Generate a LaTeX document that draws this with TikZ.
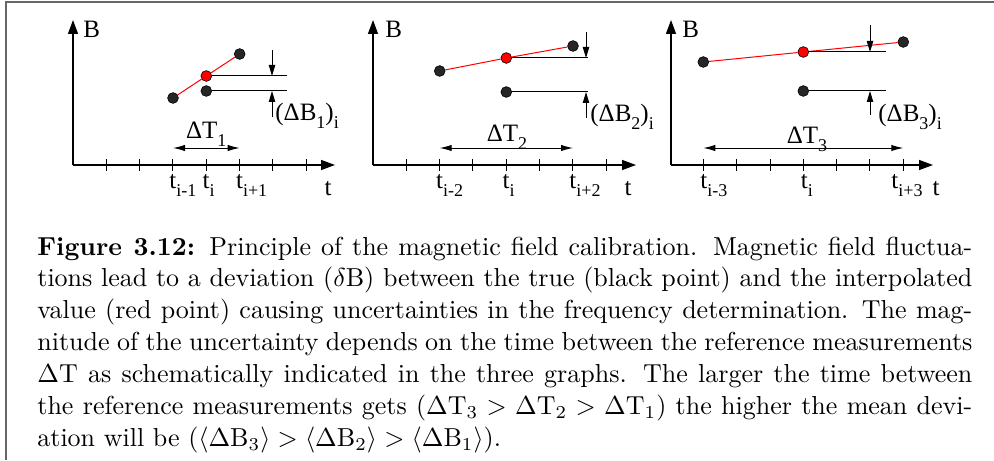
\documentclass[tikz,border=0pt]{standalone}
\usepackage{fontspec}
\newfontfamily\figfont{Liberation Serif}
\usetikzlibrary{arrows.meta}
\newcommand\lsub[1]{\raisebox{-0.32em}{\fontsize{9}{9}\selectfont#1}}

\begin{document}
\begin{tikzpicture}[x=0.5pt,y=-0.5pt,
  frame/.style={draw=black!60,line width=1pt},
  axis/.style={line width=0.7pt,-{Triangle[length=7pt,width=5pt]}},
  level/.style={line width=0.5pt},
  interp/.style={red,line width=0.5pt},
  dbarrow/.style={line width=0.5pt,-{Triangle[length=5.5pt,width=3.2pt]}},
  span/.style={line width=0.5pt,{Latex[length=6pt,width=3.2pt]}-{Latex[length=6pt,width=3.2pt]}},
  dot/.style={circle,fill=black!85,draw=black,line width=0.3pt,inner sep=0pt,minimum size=5.4pt},
  reddot/.style={dot,fill=red},
  lbl/.style={font=\figfont\fontsize{12.5}{14}\selectfont,inner sep=0pt},
  tlbl/.style={lbl,anchor=base west}]
\useasboundingbox (0,0) rectangle (994,460);
\coordinate (tl) at (6,2);
\coordinate (tr) at (994,2);
\coordinate (bl) at (6,460);
\draw[frame] (tr) -- (tl) -- (bl);

% first graph, Delta T_1
\begin{scope}[shift={(73,165)}]
\coordinate (o1) at (0,0);
\coordinate (yt1) at (0,-145);
\coordinate (xt1) at (262,0);
\draw[axis] (o1) -- (yt1);
\draw[axis] (o1) -- (xt1);
\foreach \k in {1,...,7} \draw[level] (\k*33.33,-6) -- (\k*33.33,6);
\node[lbl,anchor=base west] (B1) at (10,-127) {B};
\node[lbl,anchor=base] (t1) at (255,30) {t};
\node[tlbl] (ta1) at (96,23) {t\lsub{i-1}};
\node[tlbl] (tb1) at (129.3,23) {t\lsub{i}};
\node[tlbl] (tc1) at (162.7,23) {t\lsub{i+1}};
\node[dot] (p1) at (100,-67) {};
\node[reddot] (r1) at (133.3,-89) {};
\node[dot] (q1) at (166.7,-111) {};
\node[dot] (s1) at (133.3,-74) {};
\draw[interp] (p1) -- (r1) -- (q1);
\coordinate (re1) at (214,-89);
\coordinate (se1) at (214,-74);
\draw[level] (r1) -- (re1);
\draw[level] (s1) -- (se1);
\coordinate (da1) at (199,-115);
\coordinate (dh1) at (199,-89);
\coordinate (ua1) at (199,-48);
\coordinate (uh1) at (199,-74);
\draw[dbarrow] (da1) -- (dh1);
\draw[dbarrow] (ua1) -- (uh1);
\node[lbl,anchor=base west] (dB1) at (202,-45) {(ΔB\lsub{1})\lsub{i}};
\node[lbl,anchor=base] (dT1) at (133.3,-27) {ΔT\lsub{1}};
\coordinate (sl1) at (100,-17);
\coordinate (sr1) at (166.7,-17);
\draw[span] (sl1) -- (sr1);
\end{scope}

% second graph, Delta T_2
\begin{scope}[shift={(373,165)}]
\coordinate (o2) at (0,0);
\coordinate (yt2) at (0,-145);
\coordinate (xt2) at (263,0);
\draw[axis] (o2) -- (yt2);
\draw[axis] (o2) -- (xt2);
\foreach \k in {1,...,7} \draw[level] (\k*33.33,-6) -- (\k*33.33,6);
\node[lbl,anchor=base west] (B2) at (12,-127) {B};
\node[lbl,anchor=base] (t2) at (255,30) {t};
\node[tlbl] (ta2) at (62.7,23) {t\lsub{i-2}};
\node[tlbl] (tb2) at (129.3,23) {t\lsub{i}};
\node[tlbl] (tc2) at (196,23) {t\lsub{i+2}};
\node[dot] (p2) at (66.7,-94) {};
\node[reddot] (r2) at (133.3,-107) {};
\node[dot] (q2) at (200,-119) {};
\node[dot] (s2) at (133.3,-73) {};
\draw[interp] (p2) -- (r2) -- (q2);
\coordinate (re2) at (215,-107);
\coordinate (se2) at (215,-73);
\draw[level] (r2) -- (re2);
\draw[level] (s2) -- (se2);
\coordinate (da2) at (213,-133);
\coordinate (dh2) at (213,-107);
\coordinate (ua2) at (213,-47);
\coordinate (uh2) at (213,-73);
\draw[dbarrow] (da2) -- (dh2);
\draw[dbarrow] (ua2) -- (uh2);
\node[lbl,anchor=base west] (dB2) at (217,-44) {(ΔB\lsub{2})\lsub{i}};
\node[lbl,anchor=base] (dT2) at (134,-24) {ΔT\lsub{2}};
\coordinate (sl2) at (66.7,-17);
\coordinate (sr2) at (200,-17);
\draw[span] (sl2) -- (sr2);
\end{scope}

% third graph, Delta T_3
\begin{scope}[shift={(670,165)}]
\coordinate (o3) at (1,0);
\coordinate (yt3) at (1,-145);
\coordinate (xt3) at (263,0);
\draw[axis] (o3) -- (yt3);
\draw[axis] (o3) -- (xt3);
\foreach \k in {1,...,7} \draw[level] (\k*33.33,-6) -- (\k*33.33,6);
\node[lbl,anchor=base west] (B3) at (12,-127) {B};
\node[lbl,anchor=base] (t3) at (266,30) {t};
\node[tlbl] (ta3) at (30,23) {t\lsub{i-3}};
\node[tlbl] (tb3) at (130.5,23) {t\lsub{i}};
\node[tlbl] (tc3) at (221,23) {t\lsub{i+3}};
\node[dot] (p3) at (33.3,-103) {};
\node[reddot] (r3) at (133.3,-113) {};
\node[dot] (q3) at (233.3,-123) {};
\node[dot] (s3) at (133.3,-74) {};
\draw[interp] (p3) -- (r3) -- (q3);
\coordinate (re3) at (216,-113);
\coordinate (se3) at (216,-74);
\draw[level] (r3) -- (re3);
\draw[level] (s3) -- (se3);
\coordinate (da3) at (200,-140);
\coordinate (dh3) at (200,-113);
\coordinate (ua3) at (200,-50);
\coordinate (uh3) at (200,-74);
\draw[dbarrow] (da3) -- (dh3);
\draw[dbarrow] (ua3) -- (uh3);
\node[lbl,anchor=base west] (dB3) at (208,-44) {(ΔB\lsub{3})\lsub{i}};
\node[lbl,anchor=base] (dT3) at (137,-22) {ΔT\lsub{3}};
\coordinate (sl3) at (33.3,-17);
\coordinate (sr3) at (233.3,-17);
\draw[span] (sl3) -- (sr3);
\end{scope}

% caption
\node[anchor=base west,inner sep=0pt] (cap) at (37,255)
 {\scalebox{1.3}{\begin{minipage}[t]{359.6pt}\fontsize{10}{12.3}\selectfont
  \textbf{Figure 3.12:} Principle of the magnetic field calibration. Magnetic field fluctua-\linebreak
  tions lead to a deviation ($\delta$B) between the true (black point) and the interpolated\linebreak
  value (red point) causing uncertainties in the frequency determination. The mag-\linebreak
  nitude of the uncertainty depends on the time between the reference measurements\linebreak
  $\Delta$T as schematically indicated in the three graphs. The larger the time between\linebreak
  the reference measurements gets ($\Delta\mathrm{T}_3>\Delta\mathrm{T}_2>\Delta\mathrm{T}_1$) the higher the mean devi-\linebreak
  ation will be ($\langle\Delta\mathrm{B}_3\rangle>\langle\Delta\mathrm{B}_2\rangle>\langle\Delta\mathrm{B}_1\rangle$).
 \end{minipage}}};
\end{tikzpicture}
\end{document}
